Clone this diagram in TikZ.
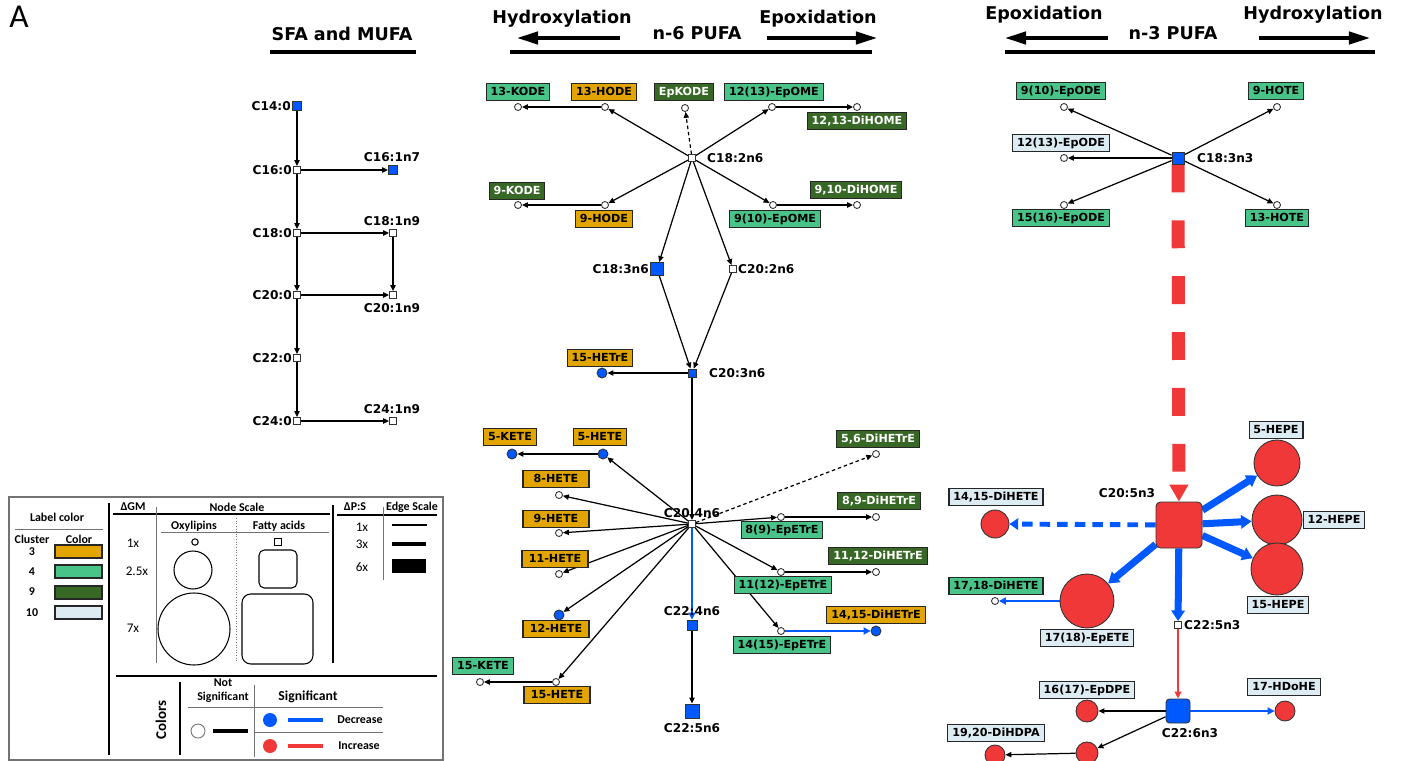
\documentclass[tikz,border=0pt]{standalone}
\usepackage{fontspec}
\setmainfont{DejaVu Sans}
\newfontfamily\legfont{Carlito}
\usetikzlibrary{arrows.meta,backgrounds}

\definecolor{clorange}{RGB}{226,165,0}
\definecolor{clgreen}{RGB}{72,196,137}
\definecolor{cldark}{RGB}{56,104,38}
\definecolor{cllight}{RGB}{221,236,242}
\definecolor{sigblue}{RGB}{0,88,255}
\definecolor{sigred}{RGB}{240,56,56}

\newcommand{\tagfont}{\fontsize{6.35}{7}\selectfont\bfseries}
\newcommand{\namefont}{\fontsize{6.9}{8}\selectfont\bfseries}
\newcommand{\headfont}{\fontsize{10}{12}\selectfont\bfseries}

\begin{document}
\begin{tikzpicture}[x=0.02cm,y=-0.02cm]

% Definitions
\tikzstyle{Acid} = [rectangle, draw=black!80, fill=white, line width=0.5pt, minimum size=0.14cm, inner sep=0pt]
\tikzstyle{AcidDown} = [Acid, fill=sigblue]
\tikzstyle{AcidUp} = [Acid, fill=sigred]
\tikzstyle{Oxy} = [circle, draw=black!80, fill=white, line width=0.5pt, minimum size=0.14cm, inner sep=0pt]
\tikzstyle{OxyDown} = [Oxy, fill=sigblue, minimum size=0.2cm]
\tikzstyle{OxyUp} = [Oxy, fill=sigred]
\tikzstyle{Tag} = [rectangle, draw=black!85, line width=0.6pt, font=\tagfont, inner xsep=2.5pt, inner ysep=0pt, minimum height=0.33cm, text height=4.7pt, text depth=1.2pt]
\tikzstyle{Tag3} = [Tag, fill=clorange]
\tikzstyle{Tag4} = [Tag, fill=clgreen]
\tikzstyle{Tag9} = [Tag, fill=cldark, text=white]
\tikzstyle{Tag10} = [Tag, fill=cllight]
\tikzstyle{Name} = [font=\namefont, inner sep=0.5pt]
\tikzstyle{Head} = [font=\headfont, anchor=base, inner sep=0pt]
\tikzstyle{Bar} = [line width=2.8pt]
\tikzstyle{Pointer} = [line width=2pt, -{Triangle[length=12pt,width=7pt]}]
\tikzstyle{arrow} = [line width=0.7pt, -{Triangle[length=3.4pt,width=3pt]}]
\tikzstyle{dasharrow} = [arrow, dash pattern=on 2pt off 1.6pt]
\tikzstyle{bluearrow} = [line width=1.5pt, draw=sigblue, -{Triangle[length=4pt,width=4pt]}]
\tikzstyle{redarrow} = [line width=1.1pt, draw=sigred, -{Triangle[length=4pt,width=3.8pt]}]
\tikzstyle{bluethick} = [line width=4pt, draw=sigblue, -{Triangle[length=6pt,width=7.5pt]}]
\tikzstyle{bluedash} = [line width=2.8pt, draw=sigblue, dash pattern=on 6pt off 4pt, -{Triangle[length=5pt,width=6.5pt]}]
\tikzstyle{reddash} = [line width=7.4pt, draw=sigred, dash pattern=on 15.9pt off 15.9pt, -{Triangle[length=9.6pt,width=10.2pt]}]
\tikzstyle{LegHead} = [font=\legfont\fontsize{6.8}{8}\selectfont\bfseries, inner sep=0pt]
\tikzstyle{LegNum} = [font=\legfont\fontsize{7.5}{8}\selectfont, inner sep=0pt]
\tikzstyle{Rule} = [line width=1.2pt]
\tikzstyle{Hair} = [draw=black!55, line width=0.5pt]

\useasboundingbox (0,0) rectangle (1401,761);
\node (panelA) [font=\legfont\fontsize{19}{20}\selectfont, inner sep=0pt] at (19,17) {A};

% SFA and MUFA
\node (sfa) [Head] at (342,40) {SFA and MUFA};
\draw [Bar] (270,52) -- (416,52);

\node (c140) [AcidDown, minimum size=0.18cm] at (297,106) {};
\node (c160) [Acid] at (297,170) {};
\node (c180) [Acid] at (297,233) {};
\node (c200) [Acid] at (297,295) {};
\node (c220) [Acid] at (297,358) {};
\node (c240) [Acid] at (297,421) {};
\node (c161) [AcidDown, minimum size=0.18cm] at (393,170) {};
\node (c181) [Acid] at (393,233) {};
\node (c201) [Acid] at (393,295) {};
\node (c241) [Acid] at (393,421) {};

\node (c140t) [Name, anchor=east] at (292,106) {C14:0};
\node (c160t) [Name, anchor=east] at (293,170) {C16:0};
\node (c180t) [Name, anchor=east] at (293,233) {C18:0};
\node (c200t) [Name, anchor=east] at (293,295) {C20:0};
\node (c220t) [Name, anchor=east] at (293,358) {C22:0};
\node (c240t) [Name, anchor=east] at (293,421) {C24:0};
\node (c161t) [Name] at (392,157) {C16:1n7};
\node (c181t) [Name] at (392,221) {C18:1n9};
\node (c201t) [Name] at (392,308) {C20:1n9};
\node (c241t) [Name] at (392,409) {C24:1n9};

% n-6 PUFA
\node (hydro6) [Head] at (562,23) {Hydroxylation};
\node (epox6) [Head] at (818,23) {Epoxidation};
\node (n6) [Head] at (697,39) {n-6 PUFA};
\draw [Pointer] (620,38) -- (517,38);
\draw [Pointer] (767,38) -- (877,38);
\draw [Bar] (510,52) -- (872,52);

\node (c182n6) [Acid] at (692,158) {};
\node (kode13) [Oxy] at (518,107) {};
\node (hode13) [Oxy] at (605,107) {};
\node (epkode) [Oxy] at (685,108) {};
\node (epome12) [Oxy] at (772,107) {};
\node (dihome12) [Oxy] at (857,107) {};
\node (kode9) [Oxy] at (518,205) {};
\node (hode9) [Oxy] at (605,205) {};
\node (epome9) [Oxy] at (773,205) {};
\node (dihome9) [Oxy] at (857,205) {};
\node (c183n6) [AcidDown, minimum size=0.26cm] at (657,269) {};
\node (c202n6) [Acid] at (733,269) {};
\node (c203n6) [AcidDown, minimum size=0.16cm] at (692,373) {};
\node (hetre15) [OxyDown] at (602,373) {};
\node (c204n6) [Acid] at (692,524) {};
\node (hete5) [OxyDown] at (603,454) {};
\node (kete5) [OxyDown] at (512,454) {};
\node (hete8) [Oxy] at (559,495) {};
\node (hete9) [Oxy] at (559,533) {};
\node (hete11) [Oxy] at (559,574) {};
\node (hete12) [OxyDown] at (559,615) {};
\node (hete15) [Oxy] at (556,682) {};
\node (kete15) [Oxy] at (480,682) {};
\node (dihetre56) [Oxy] at (876,454) {};
\node (epetre8) [Oxy] at (781,517) {};
\node (dihetre89) [Oxy] at (876,517) {};
\node (epetre11) [Oxy] at (781,572) {};
\node (dihetre1112) [Oxy] at (876,572) {};
\node (epetre14) [Oxy] at (781,631) {};
\node (dihetre1415) [OxyDown] at (876,631) {};
\node (c224n6) [AcidDown, minimum size=0.2cm] at (692,625) {};
\node (c225n6) [AcidDown, minimum size=0.28cm] at (692,711) {};

\node (c182n6t) [Name, anchor=west] at (706,158) {C18:2n6};
\node (c183n6t) [Name, anchor=east] at (650,269) {C18:3n6};
\node (c202n6t) [Name, anchor=west] at (737,269) {C20:2n6};
\node (c203n6t) [Name, anchor=west] at (708,373) {C20:3n6};
\node (c204n6t) [Name] at (692,513) {C20:4n6};
\node (c224n6t) [Name] at (692,611) {C22:4n6};
\node (c225n6t) [Name] at (692,728) {C22:5n6};

\node (t13KODE) [Tag4] at (518,92) {13-KODE};
\node (t13HODE) [Tag3] at (604,92) {13-HODE};
\node (tEpKODE) [Tag9] at (684,92) {EpKODE};
\node (t12EpOME) [Tag4] at (774,92) {12(13)-EpOME};
\node (t12DiHOME) [Tag9] at (857,121) {12,13-DiHOME};
\node (t9KODE) [Tag9] at (517,191) {9-KODE};
\node (t9HODE) [Tag3] at (604,219) {9-HODE};
\node (t9EpOME) [Tag4] at (775,219) {9(10)-EpOME};
\node (t9DiHOME) [Tag9] at (856,190) {9,10-DiHOME};
\node (t15HETrE) [Tag3] at (600,358) {15-HETrE};
\node (t5KETE) [Tag3] at (510,437) {5-KETE};
\node (t5HETE) [Tag3] at (600,437) {5-HETE};
\node (t8HETE) [Tag3, minimum width=1.32cm] at (556,479) {8-HETE};
\node (t9HETE) [Tag3, minimum width=1.32cm] at (556,519) {9-HETE};
\node (t11HETE) [Tag3, minimum width=1.32cm] at (555,559) {11-HETE};
\node (t12HETE) [Tag3, minimum width=1.32cm] at (556,629) {12-HETE};
\node (t15HETE) [Tag3, minimum width=1.32cm] at (557,695) {15-HETE};
\node (t15KETE) [Tag4] at (483,666) {15-KETE};
\node (t56DiHETrE) [Tag9] at (878,439) {5,6-DiHETrE};
\node (t89DiHETrE) [Tag9] at (879,501) {8,9-DiHETrE};
\node (t8EpETrE) [Tag4] at (782,530) {8(9)-EpETrE};
\node (t1112DiHETrE) [Tag9] at (878,556) {11,12-DiHETrE};
\node (t11EpETrE) [Tag4] at (783,585) {11(12)-EpETrE};
\node (t1415DiHETrE) [Tag3] at (876,615) {14,15-DiHETrE};
\node (t14EpETrE) [Tag4] at (782,645) {14(15)-EpETrE};

% n-3 PUFA
\node (epox3) [Head] at (1044,19) {Epoxidation};
\node (hydro3) [Head] at (1313,19) {Hydroxylation};
\node (n3) [Head] at (1173,39) {n-3 PUFA};
\draw [Pointer] (1108,38) -- (1005,38);
\draw [Pointer] (1259,38) -- (1370,38);
\draw [Bar] (1005,52) -- (1375,52);

\node (c183n3) [AcidDown, minimum size=0.24cm] at (1178,158) {};
\node (epode9) [Oxy] at (1064,107) {};
\node (epode12) [Oxy] at (1064,158) {};
\node (epode15) [Oxy] at (1064,205) {};
\node (hote9) [Oxy] at (1277,107) {};
\node (hote13) [Oxy] at (1277,205) {};
\node (c205n3) [AcidUp, minimum size=0.92cm, rounded corners=2.5pt] at (1179,525) {};
\node (hepe5) [OxyUp, minimum size=0.92cm] at (1277,463) {};
\node (hepe12) [OxyUp, minimum size=1.0cm] at (1277,520) {};
\node (hepe15) [OxyUp, minimum size=1.04cm] at (1277,569) {};
\node (dihete14) [OxyUp, minimum size=0.56cm] at (995,524) {};
\node (epete17) [OxyUp, minimum size=1.08cm] at (1087,601) {};
\node (dihete17) [Oxy] at (995,601) {};
\node (c225n3) [Acid] at (1178,625) {};
\node (c226n3) [AcidDown, minimum size=0.48cm, rounded corners=2pt] at (1178,711) {};
\node (epdpe16) [OxyUp, minimum size=0.44cm] at (1087,711) {};
\node (hdohe17) [OxyUp, minimum size=0.4cm] at (1285,711) {};
\node (epdpe19) [OxyUp, minimum size=0.44cm] at (1087,753) {};
\node (dihdpa19) [OxyUp, minimum size=0.4cm] at (995,755) {};

\node (c183n3t) [Name, anchor=west] at (1196,158) {C18:3n3};
\node (c205n3t) [Name] at (1127,493) {C20:5n3};
\node (c225n3t) [Name, anchor=west] at (1183,625) {C22:5n3};
\node (c226n3t) [Name] at (1190,733) {C22:6n3};

\node (t9EpODE) [Tag4] at (1061,91) {9(10)-EpODE};
\node (t12EpODE) [Tag10] at (1061,143) {12(13)-EpODE};
\node (t15EpODE) [Tag4] at (1061,218) {15(16)-EpODE};
\node (t9HOTE) [Tag4] at (1276,91) {9-HOTE};
\node (t13HOTE) [Tag4] at (1277,218) {13-HOTE};
\node (t5HEPE) [Tag10] at (1276,430) {5-HEPE};
\node (t12HEPE) [Tag10] at (1334,520) {12-HEPE};
\node (t15HEPE) [Tag10] at (1278,605) {15-HEPE};
\node (t14DiHETE) [Tag10] at (996,497) {14,15-DiHETE};
\node (t17DiHETE) [Tag4] at (996,586) {17,18-DiHETE};
\node (t17EpETE) [Tag10] at (1087,638) {17(18)-EpETE};
\node (t16EpDPE) [Tag10] at (1087,690) {16(17)-EpDPE};
\node (t17HDoHE) [Tag10] at (1284,687) {17-HDoHE};
\node (t19DiHDPA) [Tag10] at (996,733) {19,20-DiHDPA};

% Legend
\draw [draw=black!55, line width=0.6pt] (9,497) rectangle (443,760);
\node (legLabel) [LegHead] at (57,517) {Label color};
\draw [Hair] (15,529) -- (103,529);
\node (legCluster) [LegHead] at (32,539) {Cluster};
\node (legColor) [LegHead] at (79,539) {Color};
\node (leg3) [LegHead] at (32,552) {3};
\node (leg4) [LegHead] at (32,572) {4};
\node (leg9) [LegHead] at (32,592) {9};
\node (leg10) [LegHead] at (32,613) {10};
\node (box3) [Tag3, minimum width=0.94cm, minimum height=0.26cm] at (78.5,551.5) {};
\node (box4) [Tag4, minimum width=0.94cm, minimum height=0.26cm] at (78.5,571.5) {};
\node (box9) [Tag9, minimum width=0.94cm, minimum height=0.26cm] at (78.5,592.5) {};
\node (box10) [Tag10, minimum width=0.94cm, minimum height=0.26cm] at (78.5,612.5) {};
\draw [Rule] (109,503) -- (109,755);

\node (legGM) [LegHead] at (133,507) {ΔGM};
\node (legNode) [LegHead] at (237,507) {Node Scale};
\draw [Rule] (113,514) -- (330,514);
\draw [Hair] (156,507) -- (156,663);
\node (legOxy) [LegHead] at (194,526) {Oxylipins};
\node (legFat) [LegHead] at (279,526) {Fatty acids};
\draw [Hair] (161,532) -- (329,532);
\draw [Hair, densely dotted] (236,518) -- (236,662);
\node (leg1) [LegNum] at (133,543) {1x};
\node (leg25) [LegNum] at (137,571) {2.5x};
\node (leg7) [LegNum] at (133,628) {7x};
\draw [line width=0.6pt] (195,542) circle (3.2);
\draw [line width=0.6pt] (193,570) circle (19);
\draw [line width=0.6pt] (194,629) circle (36);
\draw [line width=0.5pt] (274.5,538.5) rectangle (281.5,545.5);
\draw [line width=0.6pt, rounded corners=3pt] (259,550) rectangle (297,588);
\draw [line width=0.6pt, rounded corners=5pt] (242,594) rectangle (313,664);
\draw [Rule] (333,505) -- (333,663);

\node (legPS) [LegHead] at (355,507) {ΔP:S};
\node (legEdge) [LegHead] at (412,507) {Edge Scale};
\draw [Rule] (337,515) -- (437,515);
\draw [Hair] (383,507) -- (383,580);
\node (legE1) [LegNum] at (362,527) {1x};
\node (legE3) [LegNum] at (362,544) {3x};
\node (legE6) [LegNum] at (362,567) {6x};
\draw [line width=0.6pt] (392,525) -- (427,525);
\draw [line width=2.8pt] (392,544) -- (426,544);
\draw [line width=8pt] (392,566) -- (426,566);

\draw [Rule] (116,676) -- (437,676);
\node (legColors) [LegHead, font=\legfont\fontsize{8.5}{9}\selectfont\bfseries, rotate=90] at (161,720) {Colors};
\draw [Rule] (180,682) -- (180,755);
\node (legNot) [LegHead, align=center] at (223,691) {Not\\Significant};
\draw [Hair] (188,707) -- (383,707);
\draw [Hair] (254,685) -- (254,757);
\node (legSig) [LegHead, font=\legfont\fontsize{7.8}{9}\selectfont\bfseries] at (308,697) {Significant};
\draw [Hair] (255,732) -- (383,732);
\draw [draw=black!55, line width=0.5pt] (198,731) circle (7);
\draw [line width=2.8pt] (213,731) -- (248,731);
\fill [sigblue] (270,720) circle (7);
\draw [sigblue, line width=2.8pt] (288,720) -- (323,720);
\node (legDec) [LegHead] at (360,720) {Decrease};
\fill [sigred] (270,746) circle (7);
\draw [sigred, line width=2.8pt] (288,746) -- (323,746);
\node (legInc) [LegHead] at (359,746) {Increase};

\begin{pgfonlayer}{background}
\fill [white] (0,0) rectangle (1401,761);

\draw [arrow] (c140) -- (c160);
\draw [arrow] (c160) -- (c180);
\draw [arrow] (c180) -- (c200);
\draw [arrow] (c200) -- (c220);
\draw [arrow] (c220) -- (c240);
\draw [arrow] (c160) -- (c161);
\draw [arrow] (c180) -- (c181);
\draw [arrow] (c181) -- (c201);
\draw [arrow] (c200) -- (c201);
\draw [arrow] (c240) -- (c241);

\draw [arrow] (c182n6) -- (hode13);
\draw [arrow] (hode13) -- (kode13);
\draw [dasharrow] (c182n6) -- (epkode);
\draw [arrow] (c182n6) -- (epome12);
\draw [arrow] (epome12) -- (dihome12);
\draw [arrow] (c182n6) -- (hode9);
\draw [arrow] (hode9) -- (kode9);
\draw [arrow] (c182n6) -- (epome9);
\draw [arrow] (epome9) -- (dihome9);
\draw [arrow] (c182n6) -- (c183n6);
\draw [arrow] (c182n6) -- (c202n6);
\draw [arrow] (c183n6) -- (c203n6);
\draw [arrow] (c202n6) -- (c203n6);
\draw [arrow] (c203n6) -- (hetre15);
\draw [arrow] (c203n6) -- (c204n6);
\draw [arrow] (c204n6) -- (hete5);
\draw [arrow] (hete5) -- (kete5);
\draw [arrow] (c204n6) -- (hete8);
\draw [arrow] (c204n6) -- (hete9);
\draw [arrow] (c204n6) -- (hete11);
\draw [arrow] (c204n6) -- (hete12);
\draw [arrow] (c204n6) -- (hete15);
\draw [arrow] (hete15) -- (kete15);
\draw [dasharrow] (c204n6) -- (dihetre56);
\draw [arrow] (c204n6) -- (epetre8);
\draw [arrow] (epetre8) -- (dihetre89);
\draw [arrow] (c204n6) -- (epetre11);
\draw [arrow] (epetre11) -- (dihetre1112);
\draw [arrow] (c204n6) -- (epetre14);
\draw [bluearrow] (epetre14) -- (dihetre1415);
\draw [bluearrow] (c204n6) -- (c224n6);
\draw [arrow] (c224n6) -- (c225n6);

\draw [arrow] (c183n3) -- (epode9);
\draw [arrow] (c183n3) -- (epode12);
\draw [arrow] (c183n3) -- (epode15);
\draw [arrow] (c183n3) -- (hote9);
\draw [arrow] (c183n3) -- (hote13);
\draw [reddash] (c183n3) -- (c205n3);
\draw [bluethick] (c205n3) -- (hepe5);
\draw [bluethick] (c205n3) -- (hepe12);
\draw [bluethick] (c205n3) -- (hepe15);
\draw [bluethick] (c205n3) -- (epete17);
\draw [bluethick] (c205n3) -- (c225n3);
\draw [bluedash] (c205n3) -- (dihete14);
\draw [bluearrow] (epete17) -- (dihete17);
\draw [redarrow] (c225n3) -- (c226n3);
\draw [arrow] (c226n3) -- (epdpe16);
\draw [bluearrow] (c226n3) -- (hdohe17);
\draw [arrow] (c226n3) -- (epdpe19);
\draw [arrow] (epdpe19) -- (dihdpa19);
\end{pgfonlayer}

\end{tikzpicture}
\end{document}
